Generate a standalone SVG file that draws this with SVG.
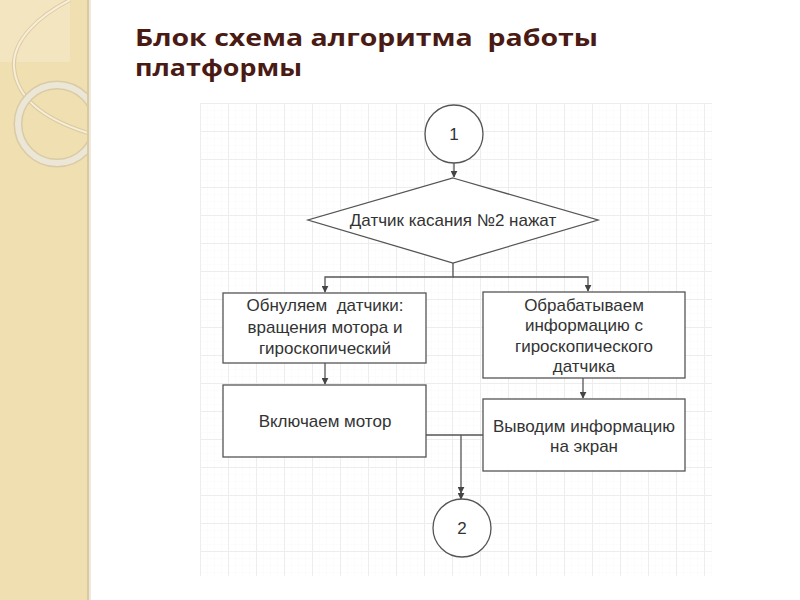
<svg xmlns="http://www.w3.org/2000/svg" width="800" height="600" viewBox="0 0 800 600">
<style>
.title{font-family:"Open Sans","Lato","Liberation Sans",sans-serif;font-weight:bold;font-size:23px;fill:#4a1a14;white-space:pre}
.shape{fill:#ffffff;stroke:#555555;stroke-width:1.3}
.lbl{font-family:"Liberation Sans","Arial",sans-serif;font-size:17px;fill:#333333;text-anchor:middle}
.conn{fill:none;stroke:#555555;stroke-width:1.3}
</style>
<defs>
<pattern id="minor" x="200" y="103" width="7" height="7" patternUnits="userSpaceOnUse">
<path d="M0,0 H7 M0,0 V7" stroke="#f9f9f9" stroke-width="1" fill="none"/>
</pattern>
<pattern id="major" x="200" y="103" width="28" height="28" patternUnits="userSpaceOnUse">
<path d="M0,0.5 H28 M0.5,0 V28" stroke="#ededed" stroke-width="1" fill="none"/>
</pattern>
<marker id="arr" viewBox="0 0 10 10" refX="9" refY="5" markerWidth="7" markerHeight="7" orient="auto" markerUnits="userSpaceOnUse">
<path d="M0,0 L10,5 L0,10 z" fill="#444444"/>
</marker>
<clipPath id="band"><rect x="0" y="0" width="88" height="600"/></clipPath>
</defs>
<rect width="800" height="600" fill="#ffffff"/>
<!-- decorative band -->
<g id="band-deco">
<rect x="0" y="0" width="88" height="600" fill="#f0dfb1"/>
<rect x="0" y="0" width="70" height="62" fill="#f3e5c0"/>
<g clip-path="url(#band)">
<path d="M70,0 C40,15 12,40 14,67 C16,95 40,118 88,133" fill="none" stroke="#dccb9f" stroke-width="4"/>
<path d="M70,0 C40,15 12,40 14,67 C16,95 40,118 88,133" fill="none" stroke="#f6eedb" stroke-width="2"/>
<circle cx="57" cy="124" r="39" fill="none" stroke="#d9cba6" stroke-width="9"/>
<circle cx="57" cy="124" r="39" fill="none" stroke="#ece6d7" stroke-width="6"/>
</g>
<rect x="87" y="0" width="2" height="600" fill="#d9caa0"/>
<rect x="89" y="0" width="2" height="600" fill="#eee9dc"/>
</g>
<!-- title -->
<g id="title">
<text class="title" x="135" y="46" textLength="463" lengthAdjust="spacingAndGlyphs" xml:space="preserve">Блок схема алгоритма  работы</text>
<text class="title" x="135" y="76" textLength="167" lengthAdjust="spacingAndGlyphs">платформы</text>
</g>
<!-- grid -->
<rect x="200" y="103" width="512" height="473" fill="url(#minor)"/>
<rect x="200" y="103" width="512" height="473" fill="url(#major)"/>
<!-- connectors -->
<g id="connectors">
<path class="conn" d="M454,163 V177" marker-end="url(#arr)"/>
<path class="conn" d="M453,263 V277 H325 V292" marker-end="url(#arr)"/>
<path class="conn" d="M453,277 H588 V291" marker-end="url(#arr)"/>
<path class="conn" d="M325,363 V384" marker-end="url(#arr)"/>
<path class="conn" d="M583,378 V398" marker-end="url(#arr)"/>
<path class="conn" d="M426,435 H483"/>
<path class="conn" d="M461,435 V493" marker-end="url(#arr)"/>
<path class="conn" d="M461,490 V499" marker-end="url(#arr)"/>
</g>
<g id="start">
<circle class="shape" cx="454" cy="134" r="29"/>
<text class="lbl" x="454" y="140">1</text>
</g>
<g id="decision">
<polygon class="shape" points="453,178 598,220 453,263 308,220"/>
<text class="lbl" x="453" y="226">Датчик касания №2 нажат</text>
</g>
<g id="reset">
<rect class="shape" x="223" y="293" width="203" height="70"/>
<text class="lbl" x="325" y="311" xml:space="preserve">Обнуляем  датчики:</text>
<text class="lbl" x="325" y="333">вращения мотора и</text>
<text class="lbl" x="325" y="354">гироскопический</text>
</g>
<g id="motor">
<rect class="shape" x="223" y="385" width="203" height="72"/>
<text class="lbl" x="325" y="427">Включаем мотор</text>
</g>
<g id="process">
<rect class="shape" x="483" y="292" width="202" height="86"/>
<text class="lbl" x="584" y="311">Обрабатываем</text>
<text class="lbl" x="584" y="331">информацию с</text>
<text class="lbl" x="584" y="352">гироскопического</text>
<text class="lbl" x="584" y="372">датчика</text>
</g>
<g id="display">
<rect class="shape" x="483" y="399" width="202" height="72"/>
<text class="lbl" x="584" y="432">Выводим информацию</text>
<text class="lbl" x="584" y="452">на экран</text>
</g>
<g id="end">
<circle class="shape" cx="462" cy="528" r="29"/>
<text class="lbl" x="462" y="534">2</text>
</g>
</svg>
